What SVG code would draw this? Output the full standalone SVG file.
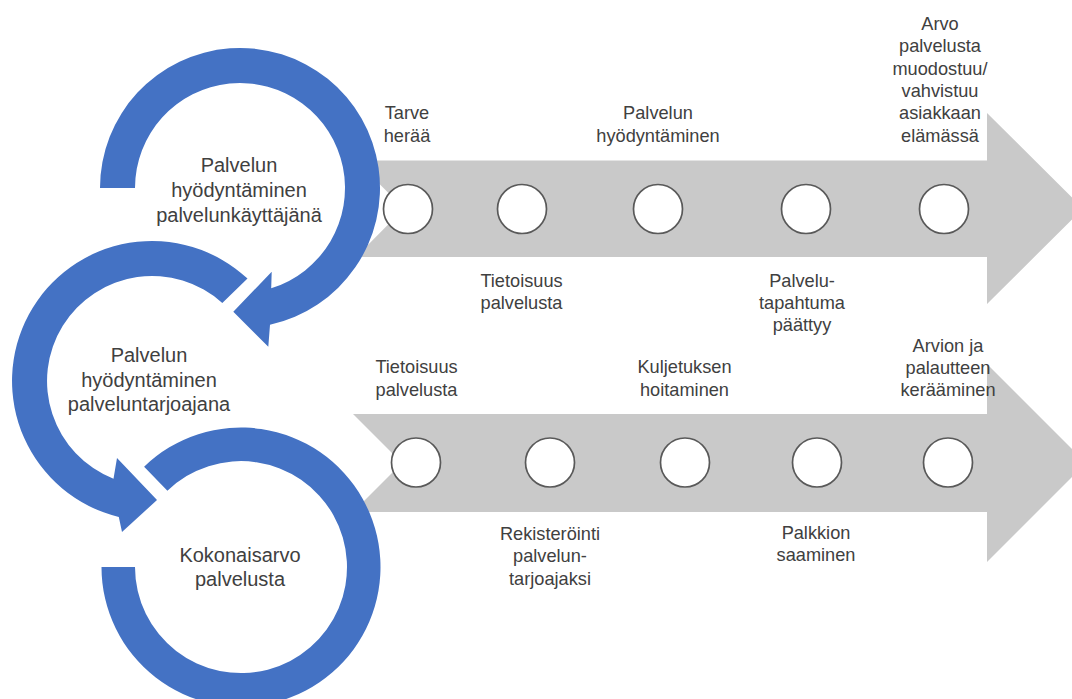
<svg xmlns="http://www.w3.org/2000/svg" width="1072" height="699" viewBox="0 0 1072 699">
  <style>
    .band { fill: #c9c9c9; }
    .ring { fill: #4472c4; }
    .dot { fill: #ffffff; stroke: #595959; stroke-width: 1.7; }
    .lbl { font-family: "Liberation Sans", Arial, sans-serif; font-size: 18.2px; fill: #404040; text-anchor: middle; }
    .big { font-family: "Liberation Sans", Arial, sans-serif; font-size: 20px; fill: #404040; text-anchor: middle; }
  </style>
  <rect width="1072" height="699" fill="#ffffff"/>

  <!-- timeline arrows -->
  <g id="timeline-user">
    <path class="band" d="M356,160.5 L987,160.5 L987,113 L1083,208.5 L987,304 L987,257 L356,257 L404,208.5 Z"/>
  </g>
  <g id="timeline-provider">
    <path class="band" d="M353,414 L987,414 L987,364 L1086,463 L987,562 L987,512 L353,512 L402,463 Z"/>
  </g>

  <!-- cycle of circular arrows -->
  <g id="cycle">
    <g id="ring-user">
      <path class="ring" d="M100,188 A140,140 0 1 1 270,324.7 L268.3,346.7 L233.3,311.7 L271.7,271.7 L271.2,288.3 A105,105 0 1 0 135,188 Z"/>
      <text class="big"><tspan x="239" y="171.7">Palvelun</tspan><tspan x="239" y="196.7">hyödyntäminen</tspan><tspan x="239" y="221.7">palvelunkäyttäjänä</tspan></text>
    </g>
    <g id="ring-provider">
      <path class="ring" d="M247.5,278.6 A140,140 0 1 0 118.8,517 L122,532 L157,500 L117,458 L113.5,478.7 A105,105 0 1 1 222.3,303 Z"/>
      <text class="big"><tspan x="149" y="361.7">Palvelun</tspan><tspan x="149" y="386.5">hyödyntäminen</tspan><tspan x="149" y="411.3">palveluntarjoajana</tspan></text>
    </g>
    <g id="ring-total">
      <path class="ring" d="M101.5,567 A139.5,139.5 0 1 0 144.1,466.7 L167.4,490.8 A106,106 0 1 1 135,567 Z"/>
      <text class="big"><tspan x="240" y="561.7">Kokonaisarvo</tspan><tspan x="240" y="586">palvelusta</tspan></text>
    </g>
  </g>

  <!-- steps on the user timeline -->
  <g id="step-u1">
    <circle class="dot" cx="408" cy="209" r="24.5"/>
    <text class="lbl"><tspan x="407" y="119.4">Tarve</tspan><tspan x="407" y="141.7">herää</tspan></text>
  </g>
  <g id="step-u2">
    <circle class="dot" cx="522" cy="209" r="24.5"/>
    <text class="lbl"><tspan x="521.5" y="286.7">Tietoisuus</tspan><tspan x="521.5" y="309">palvelusta</tspan></text>
  </g>
  <g id="step-u3">
    <circle class="dot" cx="658" cy="209" r="24.5"/>
    <text class="lbl"><tspan x="658" y="119.4">Palvelun</tspan><tspan x="658" y="141.7">hyödyntäminen</tspan></text>
  </g>
  <g id="step-u4">
    <circle class="dot" cx="806" cy="209" r="24.5"/>
    <text class="lbl"><tspan x="802" y="286.7">Palvelu-</tspan><tspan x="802" y="309">tapahtuma</tspan><tspan x="802" y="331.3">päättyy</tspan></text>
  </g>
  <g id="step-u5">
    <circle class="dot" cx="944" cy="209" r="24.5"/>
    <text class="lbl"><tspan x="940" y="30">Arvo</tspan><tspan x="940" y="52.3">palvelusta</tspan><tspan x="940" y="74.6">muodostuu/</tspan><tspan x="940" y="96.9">vahvistuu</tspan><tspan x="940" y="119.2">asiakkaan</tspan><tspan x="940" y="141.5">elämässä</tspan></text>
  </g>

  <!-- steps on the provider timeline -->
  <g id="step-p1">
    <circle class="dot" cx="416" cy="462.5" r="24.5"/>
    <text class="lbl"><tspan x="416.5" y="373.3">Tietoisuus</tspan><tspan x="416.5" y="395.6">palvelusta</tspan></text>
  </g>
  <g id="step-p2">
    <circle class="dot" cx="550" cy="462.5" r="24.5"/>
    <text class="lbl"><tspan x="550" y="540">Rekisteröinti</tspan><tspan x="550" y="562.3">palvelun-</tspan><tspan x="550" y="584.6">tarjoajaksi</tspan></text>
  </g>
  <g id="step-p3">
    <circle class="dot" cx="685" cy="462.5" r="24.5"/>
    <text class="lbl"><tspan x="684.5" y="373.3">Kuljetuksen</tspan><tspan x="684.5" y="395.6">hoitaminen</tspan></text>
  </g>
  <g id="step-p4">
    <circle class="dot" cx="817" cy="462.5" r="24.5"/>
    <text class="lbl"><tspan x="816" y="539">Palkkion</tspan><tspan x="816" y="561.3">saaminen</tspan></text>
  </g>
  <g id="step-p5">
    <circle class="dot" cx="948" cy="462.5" r="24.5"/>
    <text class="lbl"><tspan x="948" y="351.7">Arvion ja</tspan><tspan x="948" y="374">palautteen</tspan><tspan x="948" y="396.3">kerääminen</tspan></text>
  </g>

  <!-- the flow between stages is carried by the arrowheads of the rings above -->
  <g id="connectors"/>
</svg>
